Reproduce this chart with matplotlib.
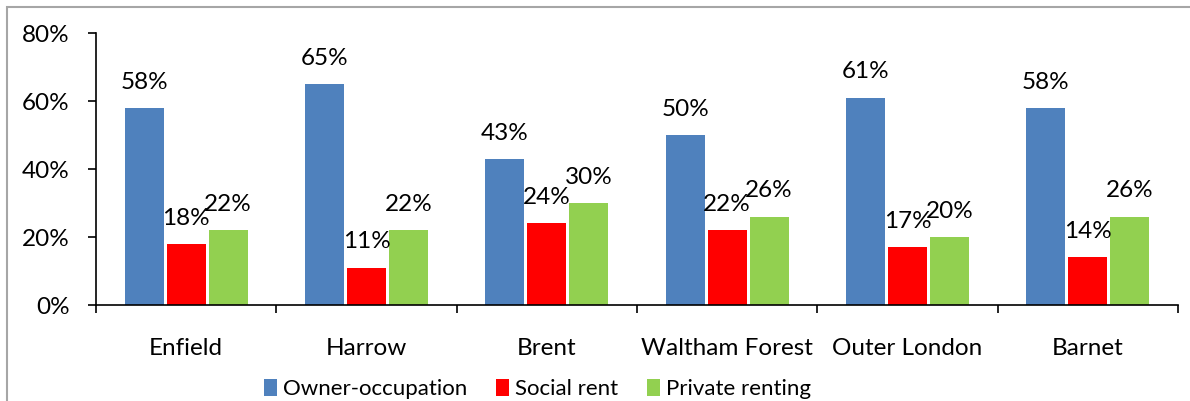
import matplotlib.pyplot as plt
import numpy as np
from matplotlib.patches import Rectangle
from matplotlib.ticker import FuncFormatter

plt.rcParams["font.family"] = ["Lato", "DejaVu Sans"]

areas = ["Enfield", "Harrow", "Brent", "Waltham Forest", "Outer London", "Barnet"]
owner = [58, 65, 43, 50, 61, 58]
social = [18, 11, 24, 22, 17, 14]
private = [22, 22, 30, 26, 20, 26]

series = [
    ("Owner-occupation", owner, "#4F81BD"),
    ("Social rent", social, "#FF0000"),
    ("Private renting", private, "#92D050"),
]

fs = 17.5

fig = plt.figure(figsize=(11.9, 4.01), dpi=100)
ax = fig.add_axes([0.0807, 0.2394, 0.9092, 0.6783])

x = np.arange(len(areas))
step = 0.233
width = 0.217
for i, (name, vals, col) in enumerate(series):
    pos = x + (i - 1) * step
    bars = ax.bar(pos, vals, width, color=col, label=name)
    for b, v in zip(bars, vals):
        ax.annotate(f"{v}%", (b.get_x() + b.get_width() / 2, v),
                    xytext=(0, 11), textcoords="offset points",
                    ha="center", va="bottom", fontsize=fs)

ax.set_xlim(-0.5, len(areas) - 0.5)
ax.set_ylim(0, 80)
ax.set_yticks([0, 20, 40, 60, 80])
ax.yaxis.set_major_formatter(FuncFormatter(lambda v, p: f"{v:.0f}%"))
ax.tick_params(axis="y", labelsize=fs, length=6, width=1.2, direction="out", pad=13)

ax.set_xticks(np.arange(-0.5, len(areas)), labels=[])
ax.set_xticks(x, labels=areas, minor=True)
ax.tick_params(axis="x", which="major", length=6, width=1.2, direction="out")
ax.tick_params(axis="x", which="minor", length=0, labelsize=fs, pad=24)

for s in ["top", "right"]:
    ax.spines[s].set_visible(False)
for s in ["left", "bottom"]:
    ax.spines[s].set_linewidth(1.2)

fig.legend(loc="center", bbox_to_anchor=(0.452, 0.03), ncol=3, frameon=False,
           fontsize=16, handlelength=0.55, handleheight=0.8, handletextpad=0.3,
           columnspacing=1.3)

fig.patches.append(Rectangle((7 / 1190, -0.1), 2, 394 / 401 + 0.1, fill=False,
                             edgecolor="#a6a6a6", lw=1.5, transform=fig.transFigure))

fig.savefig("out.png", dpi=100)
